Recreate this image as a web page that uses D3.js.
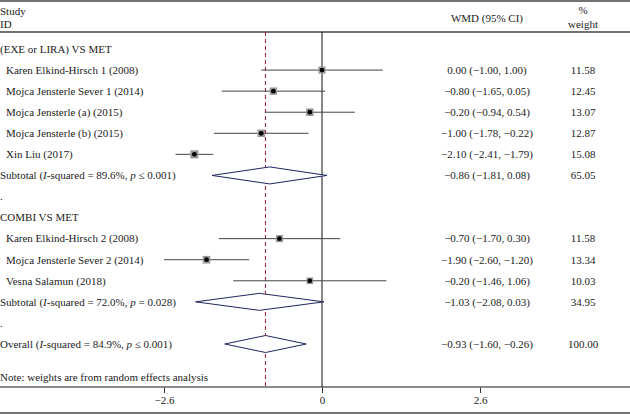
<!DOCTYPE html>
<html><head><meta charset="utf-8">
<script src="https://cdn.jsdelivr.net/npm/d3@7"></script>
<style>body{margin:0;background:#fff}svg{display:block}text{font-family:"Liberation Serif","DejaVu Serif",serif;font-size:11px;fill:#222}</style>
</head><body>
<script>
// ---- data ----
const rowLabels = ["(EXE or LIRA) VS MET","Karen Elkind-Hirsch 1 (2008)","Mojca Jensterle Sever 1 (2014)","Mojca Jensterle (a) (2015)","Mojca Jensterle (b) (2015)","Xin Liu (2017)","Subtotal","." ,"COMBI VS MET","Karen Elkind-Hirsch 2 (2008)","Mojca Jensterle Sever 2 (2014)","Vesna Salamun (2018)","Subtotal",".","Overall"];
const rowTypes = ["group","study","study","study","study","study","sub","blank","group","study","study","study","sub","blank","overall"];
const rowStats = [null,null,null,null,null,null,["89.6%","≤ 0.001"],null,null,null,null,null,["72.0%","= 0.028"],null,["84.9%","≤ 0.001"]];
const estimates = [null,0.00,-0.80,-0.20,-1.00,-2.10,-0.86,null,null,-0.70,-1.90,-0.20,-1.03,null,-0.93];
const lowers    = [null,-1.00,-1.65,-0.94,-1.78,-2.41,-1.81,null,null,-1.70,-2.60,-1.46,-2.08,null,-1.60];
const uppers    = [null,1.00,0.05,0.54,-0.22,-1.79,0.08,null,null,0.30,-1.20,1.06,0.03,null,-0.26];
const weights   = [null,11.58,12.45,13.07,12.87,15.08,65.05,null,null,11.58,13.34,10.03,34.95,null,100.00];
const tickValues = [-2.6, 0, 2.6];
const tickLabels = ["−2.6","0","2.6"];
const overallEffect = -0.93;
const noteText = "Note: weights are from random effects analysis";

const W = 630, H = 414;
const svg = d3.select("body").append("svg").attr("width", W).attr("height", H);
const x = d3.scaleLinear().domain([-2.6, 2.6]).range([164, 480]);
const y = d3.scaleLinear().domain([0, 14]).range([49, 344]);
const fmt = v => (v < 0 ? "−" : "") + Math.abs(v).toFixed(2);
const yTop = 32, yAxis = 387;

// frame lines
const lineCol = "#444";
svg.append("line").attr("x1",0).attr("x2",W).attr("y1",1).attr("y2",1).attr("stroke",lineCol).attr("stroke-width",1.5);
svg.append("line").attr("x1",0).attr("x2",W).attr("y1",yTop).attr("y2",yTop).attr("stroke",lineCol).attr("stroke-width",1.5);
svg.append("line").attr("x1",0).attr("x2",W).attr("y1",413).attr("y2",413).attr("stroke",lineCol).attr("stroke-width",1.5);

// headers
const hdr = svg.append("g");
hdr.append("text").attr("x",0).attr("y",15).text("Study");
hdr.append("text").attr("x",0).attr("y",28).text("ID");
hdr.append("text").attr("x",487).attr("y",22).attr("text-anchor","middle").text("WMD (95% CI)");
hdr.append("text").attr("x",583).attr("y",14).attr("text-anchor","middle").text("%");
hdr.append("text").attr("x",583).attr("y",28).attr("text-anchor","middle").text("weight");

// axis
const axis = d3.axisBottom(x).tickValues(tickValues).tickFormat((d,i)=>tickLabels[i]).tickSize(6).tickPadding(3);
const ag = svg.append("g").attr("transform",`translate(0,${yAxis})`).call(axis);
ag.select(".domain").remove();
ag.selectAll(".tick line").attr("stroke","#333");
ag.selectAll(".tick text").attr("font-family","Liberation Serif, serif").attr("font-size",11).attr("fill","#222");
svg.append("line").attr("x1",0).attr("x2",W).attr("y1",yAxis).attr("y2",yAxis).attr("stroke","#666").attr("stroke-width",1.5);

// null line
svg.append("line").attr("x1",x(0)).attr("x2",x(0)).attr("y1",yTop).attr("y2",yAxis).attr("stroke","#111").attr("stroke-width",1);
// overall effect dashed
svg.append("line").attr("x1",x(overallEffect)).attr("x2",x(overallEffect)).attr("y1",yTop).attr("y2",yAxis)
  .attr("stroke","#a0283c").attr("stroke-width",1.1).attr("stroke-dasharray","4,3");

// rows
rowLabels.forEach((lab, i) => {
  const t = rowTypes[i], yy = y(i);
  const tx = svg.append("text").attr("x", t === "study" ? 6 : 0).attr("y", yy).attr("dy","0.35em");
  if (rowStats[i]) {
    tx.append("tspan").text(lab + " (");
    tx.append("tspan").attr("font-style","italic").text("I");
    tx.append("tspan").text("-squared = " + rowStats[i][0] + ", ");
    tx.append("tspan").attr("font-style","italic").text("p");
    tx.append("tspan").text(" " + rowStats[i][1] + ")");
  } else tx.text(lab);

  if (estimates[i] === null) return;
  svg.append("text").attr("x",487).attr("y",yy).attr("dy","0.35em").attr("text-anchor","middle")
    .text(`${fmt(estimates[i])} (${fmt(lowers[i])}, ${fmt(uppers[i])})`);
  svg.append("text").attr("x",583).attr("y",yy).attr("dy","0.35em").attr("text-anchor","middle").text(weights[i].toFixed(2));

  if (t === "study") {
    svg.append("line").attr("x1",x(lowers[i])).attr("x2",x(uppers[i])).attr("y1",yy).attr("y2",yy).attr("stroke","#444").attr("stroke-width",1);
    const s = 2.1 * Math.sqrt(weights[i]);
    svg.append("rect").attr("x",x(estimates[i]) - s/2).attr("y",yy - s/2).attr("width",s).attr("height",s).attr("fill","#9a9a9a");
    svg.append("circle").attr("cx",x(estimates[i])).attr("cy",yy).attr("r",2.4).attr("fill","#000");
  } else {
    const h = 8.5;
    const pts = [[x(lowers[i]),yy],[x(estimates[i]),yy-h],[x(uppers[i]),yy],[x(estimates[i]),yy+h]];
    svg.append("path").attr("d", d3.line()(pts) + "Z").attr("fill","#fff").attr("stroke","#1f2560").attr("stroke-width",1);
  }
});

svg.append("text").attr("x",0).attr("y",377).attr("dy","0.35em").text(noteText);
</script>
</body></html>
